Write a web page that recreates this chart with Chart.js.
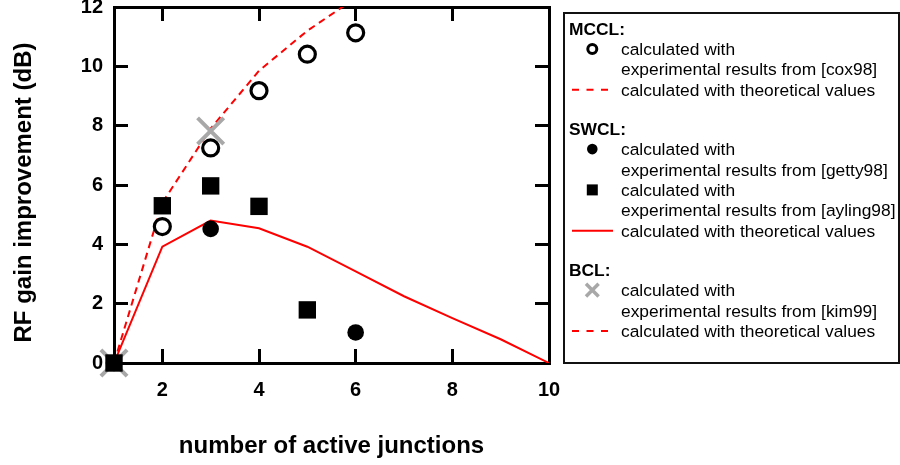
<!DOCTYPE html>
<html>
<head>
<meta charset="utf-8">
<title>RF gain improvement vs. number of active junctions</title>
<script src="https://cdn.jsdelivr.net/npm/chart.js@4.4.1/dist/chart.umd.min.js"></script>
<style>
    html, body { margin: 0; padding: 0; background: #fff; }
    #wrap { width: 900px; height: 465px; }
</style>
</head>
<body>
<div id="wrap"><canvas id="chart" width="900" height="465"></canvas></div>
<script>
// ============================================================
// RF gain improvement of cascaded links vs. active junctions
// ============================================================

const X_TICKS = [2, 4, 6, 8, 10];
const Y_TICKS = [0, 2, 4, 6, 8, 10, 12];

// MCCL
const MCCL_EXP_X = [2, 3, 4, 5, 6];
const MCCL_EXP_Y = [4.6, 7.25, 9.18, 10.41, 11.13];
const MCCL_THEORY_X = [1, 2, 3, 4, 5, 6];
const MCCL_THEORY_Y = [0, 5.4, 7.9, 9.85, 11.2, 12.3];

// SWCL
const SWCL_GETTY_X = [1, 3, 6];
const SWCL_GETTY_Y = [0, 4.52, 1.03];
const SWCL_AYLING_X = [1, 2, 3, 4, 5];
const SWCL_AYLING_Y = [0, 5.3, 5.97, 5.28, 1.79];
const SWCL_THEORY_X = [1, 2, 3, 4, 5, 6, 7, 8, 9, 10];
const SWCL_THEORY_Y = [0, 3.92, 4.8, 4.54, 3.92, 3.09, 2.25, 1.51, 0.8, 0];

// BCL
const BCL_EXP_X = [1, 3];
const BCL_EXP_Y = [0, 7.82];

const X_TITLE = "number of active junctions";
const Y_TITLE = "RF gain improvement (dB)";

const LEGEND_GROUPS = [
    { title: "MCCL:", rows: [
        { symbol: "openCircle", lines: ["calculated with", "experimental results from [cox98]"] },
        { symbol: "dash", lines: ["calculated with theoretical values"] }
    ] },
    { title: "SWCL:", rows: [
        { symbol: "dot", lines: ["calculated with", "experimental results from [getty98]"] },
        { symbol: "square", lines: ["calculated with", "experimental results from [ayling98]"] },
        { symbol: "line", lines: ["calculated with theoretical values"] }
    ] },
    { title: "BCL:", rows: [
        { symbol: "cross", lines: ["calculated with", "experimental results from [kim99]"] },
        { symbol: "dash", lines: ["calculated with theoretical values"] }
    ] }
];

const FONT = "'Liberation Sans', Arial, Helvetica, sans-serif";
const RED = "#ff0000";
const GREY = "#a8a8a8";

const pts = (xs, ys) => xs.map((x, i) => ({ x, y: ys[i] }));
const setTicks = values => scale => { scale.ticks = values.map(v => ({ value: v })); };

// legend + axis titles drawn straight on the canvas
const annotations = {
    id: "annotations",
    afterDraw(chart) {
        const ctx = chart.ctx;
        const ca = chart.chartArea;
        ctx.save();
        ctx.fillStyle = "#000";
        ctx.font = `bold 24px ${FONT}`;
        ctx.textAlign = "center";
        ctx.textBaseline = "alphabetic";
        ctx.fillText(X_TITLE, (ca.left + ca.right) / 2, 453);
        ctx.save();
        ctx.translate(30.5, 192.5);
        ctx.rotate(-Math.PI / 2);
        ctx.fillText(Y_TITLE, 0, 0);
        ctx.restore();

        // legend box
        ctx.lineWidth = 2;
        ctx.strokeStyle = "#111";
        ctx.strokeRect(564, 13, 335, 350);

        const step = 20.4, gap = 39;
        const symX = 592.3, textX = 621, headX = 569;
        let y = 28.5;
        ctx.textAlign = "left";
        LEGEND_GROUPS.forEach((g, gi) => {
            if (gi > 0) y += gap;
            ctx.fillStyle = "#000";
            ctx.font = `bold 17.4px ${FONT}`;
            ctx.fillText(g.title, headX, y + 6);
            ctx.font = `17.4px ${FONT}`;
            g.rows.forEach(row => {
                y += step;
                drawSymbol(ctx, row.symbol, symX, y);
                ctx.fillStyle = "#000";
                row.lines.forEach((txt, li) => {
                    if (li > 0) y += step;
                    ctx.fillText(txt, textX, y + 6);
                });
            });
        });
        ctx.restore();
    }
};

function drawSymbol(ctx, kind, x, y) {
    ctx.save();
    ctx.setLineDash([]);
    if (kind === "openCircle") {
        ctx.beginPath();
        ctx.arc(x, y, 4.5, 0, Math.PI * 2);
        ctx.fillStyle = "#fff";
        ctx.fill();
        ctx.lineWidth = 3;
        ctx.strokeStyle = "#000";
        ctx.stroke();
    } else if (kind === "dot") {
        ctx.beginPath();
        ctx.arc(x, y, 5.3, 0, Math.PI * 2);
        ctx.fillStyle = "#000";
        ctx.fill();
    } else if (kind === "square") {
        ctx.fillStyle = "#000";
        ctx.fillRect(x - 5.5, y - 5.5, 11, 11);
    } else if (kind === "cross") {
        ctx.strokeStyle = GREY;
        ctx.lineWidth = 3.5;
        ctx.beginPath();
        ctx.moveTo(x - 6.3, y - 6.3); ctx.lineTo(x + 6.3, y + 6.3);
        ctx.moveTo(x - 6.3, y + 6.3); ctx.lineTo(x + 6.3, y - 6.3);
        ctx.stroke();
    } else {
        ctx.strokeStyle = RED;
        ctx.lineWidth = 2;
        ctx.beginPath();
        if (kind === "dash") {
            ctx.setLineDash([7, 7.5]);
            ctx.moveTo(572, y); ctx.lineTo(608, y);
        } else {
            ctx.moveTo(572, y); ctx.lineTo(613, y);
        }
        ctx.stroke();
    }
    ctx.restore();
}

const tickFont = { family: FONT, size: 20, weight: "bold" };

function axis(extra) {
    return Object.assign({
        type: "linear",
        border: { display: true, color: "#000", width: 3 },
        grid: {
            drawOnChartArea: false,
            drawTicks: true,
            tickLength: -14,
            tickWidth: 3,
            lineWidth: 3,
            color: "#000",
            tickColor: "#000"
        }
    }, extra);
}

// fixed box sizes so the plot frame lands where the reference has it
function fixSize(dim, px) {
    return s => {
        s[dim] = px;
        s.paddingTop = 0; s.paddingBottom = 0;
        s.paddingLeft = 0; s.paddingRight = 0;
    };
}

const markerBase = { showLine: false, clip: false, pointHoverRadius: 0 };

new Chart(document.getElementById("chart").getContext("2d"), {
    type: "scatter",
    data: {
        datasets: [
            Object.assign({}, markerBase, {
                label: "SWCL [ayling98]",
                data: pts(SWCL_AYLING_X, SWCL_AYLING_Y),
                pointStyle: "rect",
                pointRadius: 12.3,
                backgroundColor: "#000",
                borderColor: "#000",
                borderWidth: 0
            }),
            Object.assign({}, markerBase, {
                label: "SWCL [getty98]",
                data: pts(SWCL_GETTY_X, SWCL_GETTY_Y),
                pointStyle: "circle",
                pointRadius: 8.3,
                backgroundColor: "#000",
                borderColor: "#000",
                borderWidth: 0
            }),
            Object.assign({}, markerBase, {
                label: "MCCL [cox98]",
                data: pts(MCCL_EXP_X, MCCL_EXP_Y),
                pointStyle: "circle",
                pointRadius: 8,
                backgroundColor: "#fff",
                borderColor: "#000",
                borderWidth: 3.2
            }),
            Object.assign({}, markerBase, {
                label: "BCL [kim99]",
                data: pts(BCL_EXP_X, BCL_EXP_Y),
                pointStyle: "crossRot",
                pointRadius: 18.5,
                backgroundColor: GREY,
                borderColor: GREY,
                borderWidth: 4
            }),
            {
                label: "SWCL theory",
                data: pts(SWCL_THEORY_X, SWCL_THEORY_Y),
                showLine: true,
                pointRadius: 0,
                borderColor: RED,
                borderWidth: 2,
                tension: 0
            },
            {
                label: "MCCL / BCL theory",
                data: pts(MCCL_THEORY_X, MCCL_THEORY_Y),
                showLine: true,
                pointRadius: 0,
                borderColor: RED,
                borderWidth: 2,
                borderDash: [7, 5],
                tension: 0
            }
        ]
    },
    options: {
        responsive: false,
        animation: false,
        events: [],
        layout: { padding: 0, autoPadding: false },
        plugins: {
            legend: { display: false },
            tooltip: { enabled: false }
        },
        scales: {
            x: axis({
                position: "bottom",
                min: 1, max: 10,
                afterBuildTicks: setTicks(X_TICKS),
                afterFit: fixSize("height", 102),
                ticks: { padding: 29, color: "#000", font: tickFont, maxRotation: 0 }
            }),
            xTop: axis({
                axis: "x",
                position: "top",
                min: 1, max: 10,
                afterBuildTicks: setTicks(X_TICKS),
                afterFit: fixSize("height", 7),
                ticks: { display: false }
            }),
            y: axis({
                position: "left",
                min: 0, max: 12,
                afterBuildTicks: setTicks(Y_TICKS),
                afterFit: fixSize("width", 114),
                ticks: { padding: 25, color: "#000", font: tickFont }
            }),
            yRight: axis({
                axis: "y",
                position: "right",
                min: 0, max: 12,
                afterBuildTicks: setTicks(Y_TICKS),
                afterFit: fixSize("width", 351),
                ticks: { display: false }
            })
        }
    },
    plugins: [annotations]
});
</script>
</body>
</html>
